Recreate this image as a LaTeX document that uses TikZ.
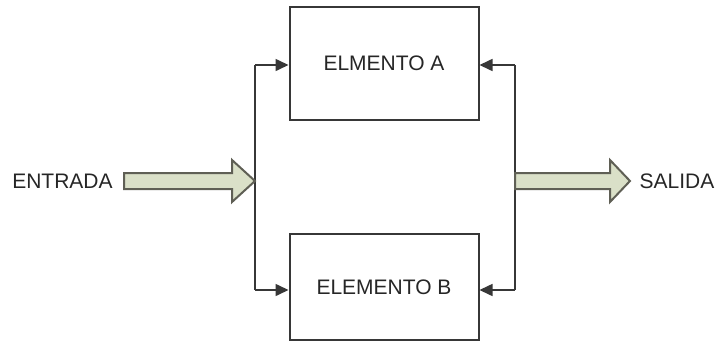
\documentclass[tikz,border=0pt]{standalone}
\usepackage{fontspec}
\setmainfont{Liberation Sans}
\usetikzlibrary{positioning,calc,arrows.meta}
\definecolor{mygray}{RGB}{55,55,55}
\definecolor{mygreen}{RGB}{218,224,200}
\definecolor{myedge}{RGB}{95,95,85}

\begin{document}
\begin{tikzpicture}[x=1pt,y=-1pt,
  every node/.style={font=\fontsize{21}{24}\selectfont,text=black!85},
  elem/.style={draw=mygray,line width=2pt,minimum width=189pt,inner sep=0pt},
  bus/.style={draw=mygray,line width=1.6pt},
  tip/.style={-{Triangle[length=13pt,width=12pt]}},
  bigarrow/.style={draw=myedge,fill=mygreen,line width=2pt,line join=miter}
]
\useasboundingbox (0,0) rectangle (717,348);

% the elements
\node[elem,minimum height=113pt] (a) at (384,63.5) {ELMENTO A};
\node[elem,minimum height=106pt] (b) at (384,287) {ELEMENTO B};

% the texts
\node (in) at (62.5,181) {ENTRADA};
\node (out) at (677,181) {SALIDA};

% the bus lines
\coordinate (l1) at (255,65);
\coordinate (l2) at (255,290);
\coordinate (r1) at (515,65);
\coordinate (r2) at (515,290);
\draw[bus] (l1) -- (l2);
\draw[bus] (r1) -- (r2);
\draw[bus,tip] (l1) -- (a.west |- l1);
\draw[bus,tip] (l2) -- (b.west |- l2);
\draw[bus,tip] (r1) -- (a.east |- r1);
\draw[bus,tip] (r2) -- (b.east |- r2);

% the block arrows
\coordinate (lin) at (255,181);
\coordinate (lout) at (630,181);
\draw[bigarrow] ($(in.east)+(8,-8)$) -- ($(lin)+(-23,-8)$) -- ($(lin)+(-23,-21)$)
  -- (lin) -- ($(lin)+(-23,21)$) -- ($(lin)+(-23,8)$) -- ($(in.east)+(8,8)$) -- cycle;
\draw[bigarrow] ($(r1|-lin)+(0,-8)$) -- ($(lout)+(-20,-8)$) -- ($(lout)+(-20,-21)$)
  -- (lout) -- ($(lout)+(-20,21)$) -- ($(lout)+(-20,8)$) -- ($(r1|-lin)+(0,8)$) -- cycle;
\end{tikzpicture}
\end{document}
